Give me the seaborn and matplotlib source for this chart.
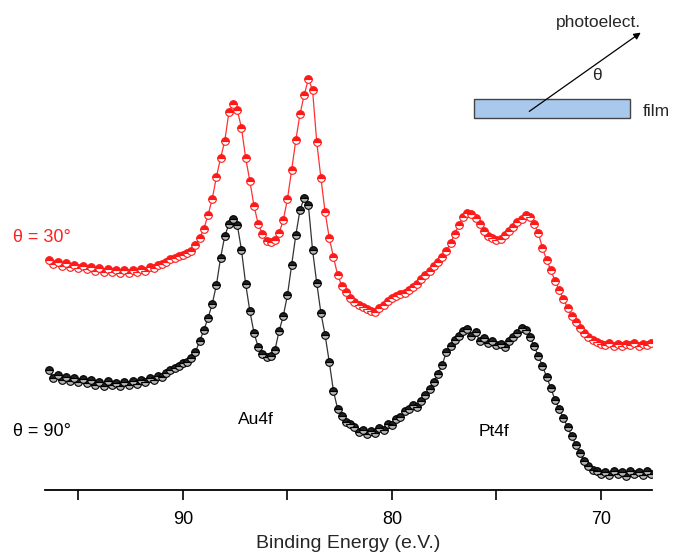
import matplotlib
matplotlib.use("Agg")
import matplotlib.pyplot as plt
from matplotlib.patches import Rectangle, FancyArrowPatch
import seaborn as sns
import pandas as pd

# ---------------- data (binding energy in eV, intensity in arb. units) ----------------
energy = [96.4, 96.2, 96.0, 95.8, 95.6, 95.4, 95.2, 95.0, 94.8, 94.6,
          94.4, 94.2, 94.0, 93.8, 93.6, 93.4, 93.2, 93.0, 92.8, 92.6,
          92.4, 92.2, 92.0, 91.8, 91.6, 91.4, 91.2, 91.0, 90.8, 90.6,
          90.4, 90.2, 90.0, 89.8, 89.6, 89.4, 89.2, 89.0, 88.8, 88.6,
          88.4, 88.2, 88.0, 87.8, 87.6, 87.4, 87.2, 87.0, 86.8, 86.6,
          86.4, 86.2, 86.0, 85.8, 85.6, 85.4, 85.2, 85.0, 84.8, 84.6,
          84.4, 84.2, 84.0, 83.8, 83.6, 83.4, 83.2, 83.0, 82.8, 82.6,
          82.4, 82.2, 82.0, 81.8, 81.6, 81.4, 81.2, 81.0, 80.8, 80.6,
          80.4, 80.2, 80.0, 79.8, 79.6, 79.4, 79.2, 79.0, 78.8, 78.6,
          78.4, 78.2, 78.0, 77.8, 77.6, 77.4, 77.2, 77.0, 76.8, 76.6,
          76.4, 76.2, 76.0, 75.8, 75.6, 75.4, 75.2, 75.0, 74.8, 74.6,
          74.4, 74.2, 74.0, 73.8, 73.6, 73.4, 73.2, 73.0, 72.8, 72.6,
          72.4, 72.2, 72.0, 71.8, 71.6, 71.4, 71.2, 71.0, 70.8, 70.6,
          70.4, 70.2, 70.0, 69.8, 69.6, 69.4, 69.2, 69.0, 68.8, 68.6,
          68.4, 68.2, 68.0, 67.8, 67.6]

# theta = 90 deg (black)
intensity_90 = [120, 112, 115, 110, 113, 109, 112, 108, 111, 107,
                110, 105, 108, 104, 109, 105, 107, 104, 108, 105,
                109, 106, 110, 108, 112, 110, 114, 113, 117, 120,
                122, 124, 127, 128, 132, 138, 149, 160, 172, 186,
                205, 232, 254, 266, 271, 265, 240, 206, 179, 157,
                143, 136, 133, 134, 140, 159, 174, 195, 225, 255,
                280, 292, 285, 240, 207, 177, 155, 128, 99, 81,
                74, 68, 66, 63, 58, 60, 56, 59, 57, 62,
                60, 66, 65, 71, 73, 79, 81, 85, 83, 89,
                95, 101, 108, 116, 125, 138, 144, 150, 154, 159,
                161, 154, 158, 149, 152, 147, 149, 145, 146, 143,
                149, 153, 157, 162, 160, 153, 144, 134, 124, 113,
                102, 90, 81, 72, 63, 54, 45, 37, 29, 24,
                20, 19, 16, 18, 15, 19, 16, 18, 14, 19,
                16, 18, 15, 19, 16]

# theta = 30 deg (red, offset upward)
intensity_30 = [230, 226, 228, 224, 227, 223, 225, 222, 224, 221,
                223, 219, 222, 218, 221, 218, 220, 217, 220, 217,
                220, 218, 221, 219, 223, 222, 225, 226, 228, 231,
                232, 234, 235, 237, 239, 245, 252, 261, 275, 291,
                313, 332, 349, 378, 386, 380, 362, 332, 309, 284,
                266, 256, 249, 248, 250, 257, 270, 291, 320, 350,
                376, 395, 411, 400, 348, 312, 278, 252, 233, 215,
                204, 198, 192, 188, 185, 183, 181, 179, 178, 182,
                185, 189, 192, 194, 196, 197, 200, 203, 206, 211,
                215, 219, 224, 228, 233, 239, 247, 256, 265, 273,
                277, 276, 272, 266, 259, 254, 252, 250, 251, 255,
                259, 263, 268, 271, 275, 273, 266, 257, 242, 230,
                220, 209, 200, 191, 182, 174, 168, 162, 157, 153,
                150, 148, 146, 145, 147, 144, 146, 144, 146, 145,
                147, 144, 146, 145, 147]

x_ticks = [90, 80, 70]
x_minor = [95, 85, 75]
x_label = "Binding Energy (e.V.)"

# ---------------- figure ----------------
W, H = 675, 556
sns.set_theme(style="white")
plt.rcParams["font.family"] = ["Liberation Sans", "DejaVu Sans"]

fig = plt.figure(figsize=(W / 100, H / 100), dpi=100)
ax = fig.add_axes([45 / W, (H - 490) / H, (652 - 45) / W, 490 / H])

df90 = pd.DataFrame({"energy": energy, "intensity": intensity_90})
df30 = pd.DataFrame({"energy": energy, "intensity": intensity_30})

sns.lineplot(data=df90, x="energy", y="intensity", ax=ax, sort=False,
             color="#333333", linewidth=0.9, marker="o", markersize=5.5,
             markerfacecolor="#202020", markeredgecolor="black",
             markeredgewidth=0.8, fillstyle="top", markerfacecoloralt="#b5b5b5",
             zorder=3)
sns.lineplot(data=df30, x="energy", y="intensity", ax=ax, sort=False,
             color="#ff3030", linewidth=0.9, marker="o", markersize=5.5,
             markerfacecolor="#ff1a1a", markeredgecolor="#ff1a1a",
             markeredgewidth=0.8, fillstyle="top", markerfacecoloralt="white",
             zorder=4)

ax.set_xlim(96.6, 67.56)
ax.set_ylim(0, 490)
ax.set_xticks(x_ticks)
ax.set_xticks(x_minor, minor=True)
ax.set_xticklabels([str(t) for t in x_ticks], fontsize=13)
ax.set_yticks([])
ax.set_xlabel(x_label, fontsize=14, labelpad=5)
ax.set_ylabel("")
for s in ["left", "right", "top"]:
    ax.spines[s].set_visible(False)
ax.spines["bottom"].set_color("black")
ax.spines["bottom"].set_linewidth(1.3)
ax.tick_params(axis="x", which="both", direction="out", bottom=True,
               length=7, width=1.2, color="black", pad=8, labelcolor="black")
ax.patch.set_alpha(0)


def fx(px):
    return px / W


def fy(py):
    return 1 - py / H


fig.text(fx(13), fy(237), "θ = 30°", color="#ff2020", fontsize=13, va="center", ha="left")
fig.text(fx(13), fy(432), "θ = 90°", color="black", fontsize=13, va="center", ha="left")
fig.text(fx(256), fy(420), "Au4f", color="black", fontsize=12.5, va="center", ha="center")
fig.text(fx(494), fy(432), "Pt4f", color="black", fontsize=12.5, va="center", ha="center")

# inset sketch
fig.patches.append(Rectangle((fx(474), fy(118)), (630 - 474) / W, (118 - 99) / H,
                             transform=fig.transFigure, facecolor="#a8c8ee",
                             edgecolor="#444444", linewidth=1.0, zorder=5))
fig.patches.append(FancyArrowPatch((fx(527), fy(113)), (fx(643), fy(31)),
                                   transform=fig.transFigure, arrowstyle="-|>",
                                   mutation_scale=10, color="black", linewidth=0.9,
                                   zorder=6))
fig.text(fx(643), fy(112), "film", fontsize=12.5, va="center", ha="left")
fig.text(fx(597), fy(76), "θ", fontsize=12.5, va="center", ha="center")
fig.text(fx(598), fy(22), "photoelect.", fontsize=12.5, va="center", ha="center")

fig.savefig("out.png", dpi=100)
